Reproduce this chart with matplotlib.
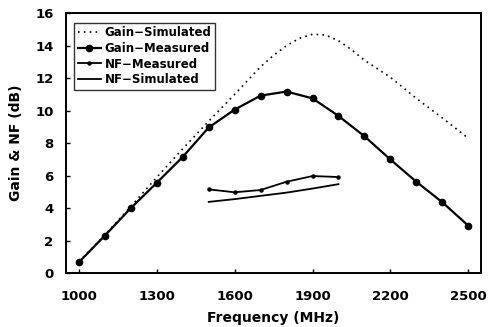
import numpy as np
import matplotlib
matplotlib.use('Agg')
import matplotlib.pyplot as plt

plt.rcParams['font.family'] = ['DejaVu Sans']
plt.rcParams['font.weight'] = 'bold'

# Gain - measured (dB)
freq_meas = [1000, 1100, 1200, 1300, 1400, 1500, 1600, 1700, 1800, 1900,
             2000, 2100, 2200, 2300, 2400, 2500]
gain_meas = [0.67, 2.31, 4.0, 5.56, 7.15, 8.96, 10.06, 10.92, 11.17, 10.75,
             9.67, 8.42, 6.99, 5.62, 4.36, 2.92]

# Gain - simulated (dB)
freq_sim = [1000, 1100, 1200, 1300, 1400, 1500, 1600, 1700, 1750, 1800, 1850,
            1900, 1950, 2000, 2050, 2100, 2200, 2300, 2400, 2500]
gain_sim = [0.7, 2.35, 4.1, 5.9, 7.65, 9.35, 11.0, 12.7, 13.4, 14.0, 14.45,
            14.7, 14.65, 14.3, 13.75, 13.1, 12.05, 10.75, 9.55, 8.3]

# NF (dB)
freq_nf = [1500, 1600, 1700, 1800, 1900, 2000]
nf_meas = [5.15, 4.97, 5.11, 5.62, 5.97, 5.91]
nf_sim = [4.38, 4.55, 4.75, 4.95, 5.2, 5.47]

fig = plt.figure(figsize=(4.89, 3.27), dpi=100)
ax = fig.add_axes([0.135, 0.165, 0.849, 0.795])

ax.plot(freq_sim, gain_sim, color='black', linestyle=(0, (1, 2.5)), linewidth=1.2,
        label='Gain\u2212Simulated')
ax.plot(freq_meas, gain_meas, color='black', linewidth=1.6, marker='o', markersize=4.5,
        label='Gain\u2212Measured')
ax.plot(freq_nf, nf_meas, color='black', linewidth=1.3, marker='o', markersize=2.2,
        label='NF\u2212Measured')
ax.plot(freq_nf, nf_sim, color='black', linewidth=1.3, label='NF\u2212Simulated')

ax.set_xlim(950, 2550)
ax.set_ylim(0, 16)
ax.set_xticks(range(1000, 2501, 300))
ax.set_yticks(range(0, 17, 2))
ax.tick_params(direction='in', length=3, width=1, labelsize=9.5)
ax.tick_params(axis='x', pad=12)
ax.tick_params(axis='y', pad=9)
for lab in ax.get_xticklabels() + ax.get_yticklabels():
    lab.set_fontweight('bold')
for s in ax.spines.values():
    s.set_linewidth(1.4)

ax.set_xlabel('Frequency (MHz)', fontsize=10, fontweight='bold', labelpad=6)
ax.set_ylabel('Gain & NF (dB)', fontsize=10, fontweight='bold', labelpad=9)

leg = ax.legend(loc='upper left', bbox_to_anchor=(0.005, 0.985),
                frameon=True, fancybox=False, edgecolor='black', handlelength=2.0,
                handletextpad=0.3, labelspacing=0.22, borderpad=0.3,
                prop={'weight': 'bold', 'size': 8.5})
leg.get_frame().set_linewidth(1.0)

fig.savefig('out.png', dpi=100)
